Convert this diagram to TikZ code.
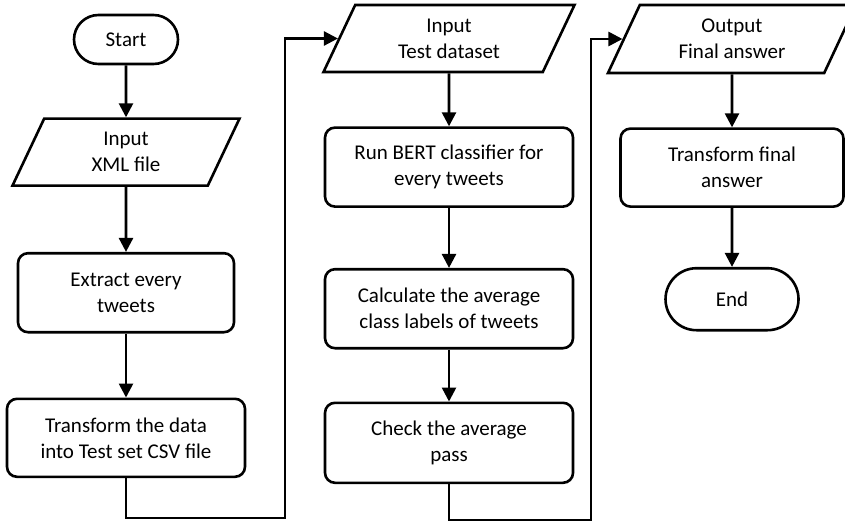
\documentclass[tikz,border=0pt]{standalone}
\usepackage{fontspec}
\setmainfont{Carlito}
\usepackage{tikz}
\usetikzlibrary{arrows.meta, positioning, shapes.geometric, shapes.misc}

\begin{document}
\begin{tikzpicture}[
    x=1pt, y=-1pt,
    box/.style={rectangle, draw=black, fill=white, line width=2.6pt, rounded corners=10pt, minimum height=79pt, align=center, inner sep=2pt, font=\fontsize{21}{26}\selectfont},
    term/.style={rounded rectangle, draw=black, fill=white, line width=2.6pt, align=center, inner sep=2pt, font=\fontsize{21}{26}\selectfont},
    io/.style={trapezium, trapezium left angle=54, trapezium right angle=126, trapezium stretches body, draw=black, fill=white, line width=2.6pt, minimum height=67pt, align=center, inner sep=2pt, font=\fontsize{21}{26}\selectfont},
    line/.style={draw=black, line width=2.6pt, -{Triangle[length=14pt, width=14pt]}}
]
    \useasboundingbox (0,0) rectangle (845,522);

    % Left column (reading the XML file)
    \node[term, minimum width=108pt, minimum height=49pt] (START) at (126,39.5) {Start};
    \node[io, below=52pt of START, minimum width=227pt] (XML) {Input\\XML file};
    \node[box, below=65pt of XML, minimum width=216pt] (EXTRACT) {Extract every\\tweets};
    \node[box, below=64pt of EXTRACT, minimum width=238pt, minimum height=78pt] (TRANS) {Transform the data\\into Test set CSV file};

    % Middle column (classification)
    \node[io, minimum width=251pt] (TEST) at (449,38.5) {Input\\Test dataset};
    \node[box, below=53pt of TEST, minimum width=248pt] (BERT) {Run BERT classifier for\\every tweets};
    \node[box, below=60pt of BERT, minimum width=248pt] (AVG) {Calculate the average\\class labels of tweets};
    \node[box, below=52pt of AVG, minimum width=248pt, minimum height=80pt] (CHECK) {Check the average\\pass};

    % Right column (final answer)
    \node[io, minimum width=248pt, minimum height=68pt] (OUT) at (732,39) {Output\\Final answer};
    \node[box, below=53pt of OUT, minimum width=223pt, minimum height=78pt] (FINAL) {Transform final\\answer};
    \node[term, below=59pt of FINAL, minimum width=137pt, minimum height=62pt] (END) {End};

    % Corners of the column-to-column links
    \coordinate (BEND1) at (285,518);
    \coordinate (BEND2) at (591,520);

    % Interconnections
    \draw[line] (START) -- (XML);
    \draw[line] (XML) -- (EXTRACT);
    \draw[line] (EXTRACT) -- (TRANS);
    \draw[line] (TRANS.south) |- (BEND1) |- (TEST.west);
    \draw[line] (TEST) -- (BERT);
    \draw[line] (BERT) -- (AVG);
    \draw[line] (AVG) -- (CHECK);
    \draw[line] (CHECK.south) |- (BEND2) |- (OUT.west);
    \draw[line] (OUT) -- (FINAL);
    \draw[line] (FINAL) -- (END);
\end{tikzpicture}
\end{document}
